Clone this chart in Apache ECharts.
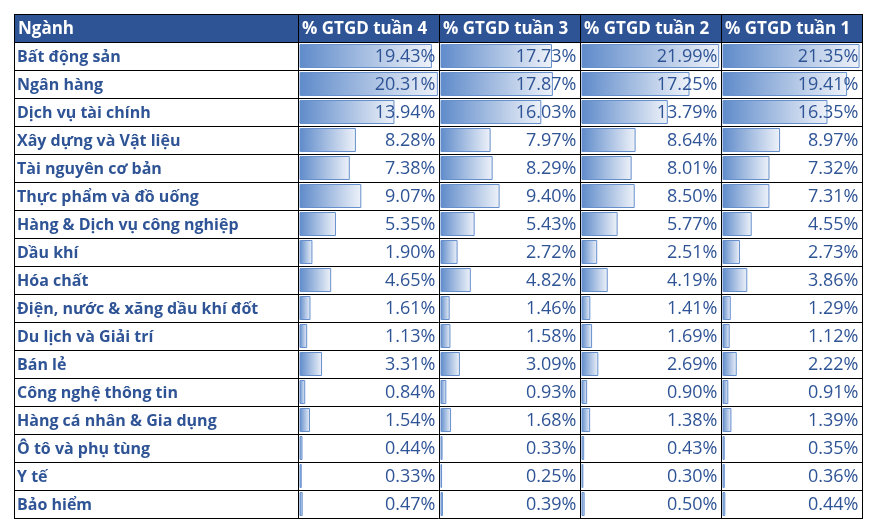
<!DOCTYPE html>
<html><head><meta charset="utf-8">
<script src="https://cdn.jsdelivr.net/npm/echarts@6/dist/echarts.min.js"></script>
<style>html,body{margin:0;padding:0;background:#fff}#c{width:885px;height:532px}</style>
</head><body><div id="c"></div>
<script>
var headerFirst = 'Ngành';
var weekHeaders = ['% GTGD tuần 4', '% GTGD tuần 3', '% GTGD tuần 2', '% GTGD tuần 1'];
var categories = ['Bất động sản','Ngân hàng','Dịch vụ tài chính','Xây dựng và Vật liệu','Tài nguyên cơ bản','Thực phẩm và đồ uống','Hàng & Dịch vụ công nghiệp','Dầu khí','Hóa chất','Điện, nước & xăng dầu khí đốt','Du lịch và Giải trí','Bán lẻ','Công nghệ thông tin','Hàng cá nhân & Gia dụng','Ô tô và phụ tùng','Y tế','Bảo hiểm'];
var week4 = [19.43,20.31,13.94,8.28,7.38,9.07,5.35,1.90,4.65,1.61,1.13,3.31,0.84,1.54,0.44,0.33,0.47];
var week3 = [17.73,17.87,16.03,7.97,8.29,9.40,5.43,2.72,4.82,1.46,1.58,3.09,0.93,1.68,0.33,0.25,0.39];
var week2 = [21.99,17.25,13.79,8.64,8.01,8.50,5.77,2.51,4.19,1.41,1.69,2.69,0.90,1.38,0.43,0.30,0.50];
var week1 = [21.35,19.41,16.35,8.97,7.32,7.31,4.55,2.73,3.86,1.29,1.12,2.22,0.91,1.39,0.35,0.36,0.44];
var barScaleMax = [20.4, 22.1, 22.2, 21.65];

var weeks = [week4, week3, week2, week1];
var colX = [14, 298, 439, 580, 721, 862];
var top0 = 14, rowH = 28;
var nRows = categories.length;
var blue = '#2F5496';
var FONT = '"Open Sans", sans-serif';

var grids = [], xAxes = [], yAxes = [], series = [], graphic = [];
graphic.push({type:'rect', shape:{x:colX[0], y:top0, width:colX[5]-colX[0], height:rowH}, style:{fill:'#2F5496'}, z:0});
graphic.push({type:'text', x:colX[0]+4, y:top0+rowH/2+1, style:{text:headerFirst, fill:'#fff', font:'bold 17px '+FONT, verticalAlign:'middle'}, z:5});
for (var c=0;c<4;c++){
  graphic.push({type:'text', x:colX[c+1]+4, y:top0+rowH/2+1, style:{text:weekHeaders[c], fill:'#fff', font:'bold 17px '+FONT, verticalAlign:'middle'}, z:5});
}
for (var r=0;r<nRows;r++){
  graphic.push({type:'text', x:colX[0]+3, y:top0+rowH*(r+1)+rowH/2+1, style:{text:categories[r], fill:blue, font:'bold 16px '+FONT, verticalAlign:'middle'}, z:5});
}
for (var k=0;k<=nRows+1;k++){
  var y = top0 + rowH*k + 0.5;
  graphic.push({type:'line', shape:{x1:colX[0], y1:y, x2:colX[5]+1, y2:y}, style:{stroke:'#000', lineWidth:1}, z:10});
}
for (var j=0;j<colX.length;j++){
  var x = colX[j] + 0.5;
  graphic.push({type:'line', shape:{x1:x, y1:top0, x2:x, y2:top0+rowH*(nRows+1)+1}, style:{stroke:'#000', lineWidth:1}, z:10});
}

for (var c=0;c<4;c++){
  grids.push({left:colX[c+1]+1.5, top:top0+rowH, width:139, height:rowH*nRows, containLabel:false});
  xAxes.push({type:'value', gridIndex:c, min:0, max:barScaleMax[c], show:false});
  yAxes.push({type:'category', gridIndex:c, data:categories, inverse:true, show:false});
  (function(vals, mx){
    series.push({type:'bar', xAxisIndex:c, yAxisIndex:c, data:vals, barWidth:24, silent:true,
      itemStyle:{color:{type:'linear', x:0, y:0, x2:1, y2:0, colorStops:[{offset:0,color:'#5f8bca'},{offset:1,color:'#eef2f9'}]}, borderColor:'#6790cd', borderWidth:1},
      z:2});
    series.push({type:'bar', xAxisIndex:c, yAxisIndex:c, data:vals.map(function(){return mx;}), barWidth:24, barGap:'-100%', silent:true,
      itemStyle:{color:'rgba(0,0,0,0)'},
      label:{show:true, position:'insideRight', distance:3, offset:[0,1], color:blue, fontFamily:FONT, fontSize:18,
        formatter:function(p){return vals[p.dataIndex].toFixed(2)+'%';}},
      z:3});
  })(weeks[c], barScaleMax[c]);
}

var chart = echarts.init(document.getElementById('c'));
chart.setOption({animation:false, grid:grids, xAxis:xAxes, yAxis:yAxes, series:series, graphic:graphic});
</script></body></html>
